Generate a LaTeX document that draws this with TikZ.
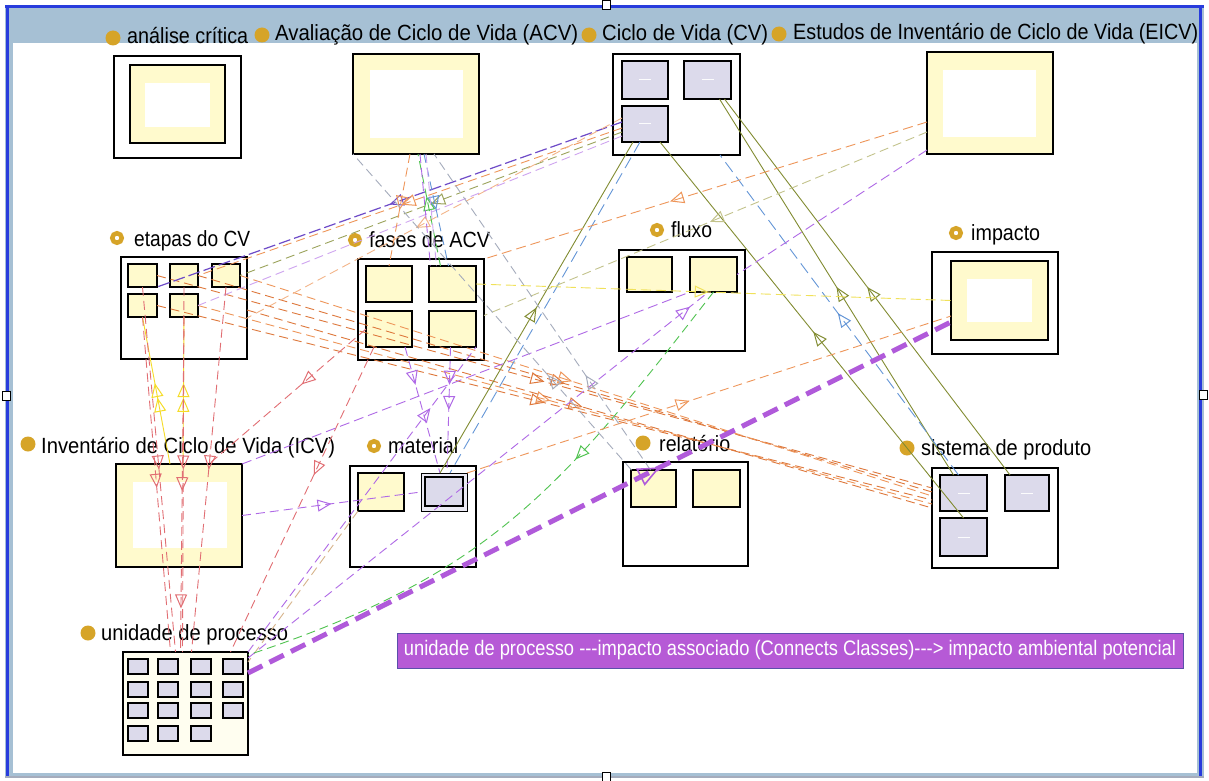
\documentclass[tikz,border=0pt]{standalone}
\usepackage{fontspec}
\setmainfont{Liberation Sans}
\usepackage{graphicx}
\usetikzlibrary{arrows.meta,decorations.markings,calc}
\definecolor{yel}{RGB}{255,250,205}
\definecolor{lav}{RGB}{220,218,235}
\definecolor{gold}{RGB}{214,164,40}
\definecolor{barblue}{RGB}{166,192,212}
\definecolor{frameblue}{RGB}{40,60,220}
\definecolor{tipfill}{RGB}{182,90,214}
\definecolor{cor}{RGB}{238,150,90}
\definecolor{cdor}{RGB}{222,120,60}
\definecolor{cpu}{RGB}{175,105,230}
\definecolor{cdpu}{RGB}{110,75,200}
\definecolor{crd}{RGB}{225,110,115}
\definecolor{col}{RGB}{130,140,50}
\definecolor{cbl}{RGB}{100,150,215}
\definecolor{cye}{RGB}{245,220,40}
\definecolor{cyd}{RGB}{240,225,90}
\definecolor{cgr}{RGB}{80,195,80}
\definecolor{cgy}{RGB}{165,172,188}
\definecolor{cbe}{RGB}{215,180,140}
\definecolor{cpo}{RGB}{195,195,140}
\definecolor{thickpu}{RGB}{176,90,218}
\newcommand\mylab[2]{\resizebox{#1}{\height}{#2}}
\tikzset{
  ot/.tip={Triangle[open,length=14pt,width=12pt,line width=1pt]},
  bt/.tip={Triangle[open,length=22pt,width=19pt,line width=1.6pt]},
  ar/.style={postaction={decorate,decoration={markings,mark=at position #1 with {\arrow{ot}}}}},
  arb/.style={postaction={decorate,decoration={markings,mark=at position #1 with {\arrow{bt}}}}},
  cn/.style={line width=0.9pt,dash pattern=on 9pt off 5pt},
  sl/.style={line width=0.9pt},
  obox/.style={rectangle,draw=black,line width=1.6pt,fill=white,inner sep=0pt,outer sep=0pt,anchor=north west},
  ybox/.style={obox,fill=yel},
  lbox/.style={obox,fill=lav,path picture={\draw[white!92!lav,line width=1pt] ([xshift=-6pt]path picture bounding box.center) -- ([xshift=6pt]path picture bounding box.center);}},
  gbox/.style={obox,fill=lav,minimum width=20pt,minimum height=15pt},
  lbl/.style={anchor=base west,inner sep=0pt,font=\fontsize{22}{24}\selectfont},
  dot/.style={circle,fill=gold,minimum size=15pt,inner sep=0pt},
  ring/.style={circle,draw=gold,line width=4.5pt,fill=white,minimum size=9.5pt,inner sep=0pt},
  hdl/.style={rectangle,draw=black,line width=0.6pt,fill=white,inner sep=0pt,minimum width=8pt,minimum height=9pt}
}
\begin{document}
\begin{tikzpicture}[x=1pt,y=-1pt]
\useasboundingbox (0,0) rectangle (1209,781);
\fill[white] (0,0) rectangle (1209,781);
% frame
\fill[barblue] (5,5) rectangle (1204,778);
\fill[white] (13,43) rectangle (1197,773);
\draw[frameblue,line width=3pt] (5,6.5) -- (1204,6.5);
\draw[frameblue,line width=3pt] (7.5,5) -- (7.5,777);
\draw[frameblue,line width=2.5pt] (1200.5,5) -- (1200.5,777);
\draw[cgy,line width=2pt] (5,777) -- (1204,777);
\node[hdl] (h1) at (606,5) {};
\node[hdl] (h2) at (6,396) {};
\node[hdl] (h3) at (1203,395) {};
\node[hdl] (h4) at (606,777) {};

% ---------- nodes ----------
\node[obox,minimum width=127pt,minimum height=102pt] (ac) at (114,56) {};
\node[ybox,minimum width=95pt,minimum height=78pt] (aci) at (130,65) {};
\fill[white] (145,83) rectangle (210,127);

\node[ybox,minimum width=126pt,minimum height=100pt] (acv) at (353,54) {};
\fill[white] (370,70) rectangle (463,138);

\node[obox,minimum width=127pt,minimum height=101pt] (cv) at (613,54) {};
\node[lbox,minimum width=46pt,minimum height=38pt] (cv1) at (622,61) {};
\node[lbox,minimum width=47pt,minimum height=38pt] (cv2) at (684,61) {};
\node[lbox,minimum width=46pt,minimum height=36pt] (cv3) at (622,106) {};

\node[ybox,minimum width=126pt,minimum height=102pt] (eicv) at (927,52) {};
\fill[white] (943,70) rectangle (1036,137);

\node[obox,minimum width=126pt,minimum height=102pt] (et) at (121,257) {};
\node[ybox,minimum width=29pt,minimum height=23pt] (et1) at (128,264) {};
\node[ybox,minimum width=28pt,minimum height=23pt] (et2) at (170,264) {};
\node[ybox,minimum width=28pt,minimum height=23pt] (et3) at (212,264) {};
\node[ybox,minimum width=29pt,minimum height=23pt] (et4) at (128,294) {};
\node[ybox,minimum width=28pt,minimum height=23pt] (et5) at (170,294) {};

\node[obox,minimum width=126pt,minimum height=101pt] (fa) at (358,259) {};
\node[ybox,minimum width=46pt,minimum height=36pt] (fa1) at (366,266) {};
\node[ybox,minimum width=47pt,minimum height=36pt] (fa2) at (429,266) {};
\node[ybox,minimum width=46pt,minimum height=36pt] (fa3) at (366,311) {};
\node[ybox,minimum width=47pt,minimum height=36pt] (fa4) at (429,311) {};

\node[obox,minimum width=126pt,minimum height=101pt] (fl) at (619,250) {};
\node[ybox,minimum width=45pt,minimum height=35pt] (fl1) at (627,257) {};
\node[ybox,minimum width=47pt,minimum height=35pt] (fl2) at (690,257) {};

\node[obox,minimum width=126pt,minimum height=102pt] (im) at (932,252) {};
\node[ybox,minimum width=97pt,minimum height=79pt] (imi) at (951,261) {};
\fill[white] (967,279) rectangle (1032,322);

\node[ybox,minimum width=126pt,minimum height=103pt] (icv) at (116,464) {};
\fill[white] (133,482) rectangle (227,548);

\node[obox,minimum width=126pt,minimum height=101pt] (ma) at (350,466) {};
\node[ybox,minimum width=46pt,minimum height=38pt] (ma1) at (358,473) {};
\node[obox,fill=lav!60,line width=1pt,minimum width=46pt,minimum height=38pt] (ma2) at (421,473) {};
\node[obox,fill=lav,minimum width=38pt,minimum height=29pt] (ma2i) at (425,477) {};

\node[obox,minimum width=125pt,minimum height=104pt] (re) at (623,462) {};
\node[ybox,minimum width=45pt,minimum height=37pt] (re1) at (631,470) {};
\node[ybox,minimum width=47pt,minimum height=37pt] (re2) at (693,470) {};

\node[obox,minimum width=126pt,minimum height=100pt] (sp) at (932,468) {};
\node[lbox,minimum width=47pt,minimum height=36pt] (sp1) at (940,475) {};
\node[lbox,minimum width=44pt,minimum height=36pt] (sp2) at (1005,475) {};
\node[lbox,minimum width=47pt,minimum height=38pt] (sp3) at (940,518) {};

\node[obox,fill=yel!30,minimum width=125pt,minimum height=103pt] (up) at (123,652) {};
\foreach \xx/\yy [count=\i] in {128/659,158/659,191/659,223/659,128/682,158/682,191/682,223/682,128/703,158/703,191/703,223/703,128/726,158/726,191/726}
  \node[gbox] (u\i) at (\xx,\yy) {};

% ---------- labels ----------
\node[dot] (dac) at (113,38) {};
\node[lbl] (tac) at (127,44) {\mylab{121pt}{análise crítica}};
\node[dot] (dacv) at (262,35) {};
\node[lbl] (tacv) at (275,41) {\mylab{303pt}{Avaliação de Ciclo de Vida (ACV)}};
\node[dot] (dcv) at (589,35) {};
\node[lbl] (tcv) at (602,41) {\mylab{166pt}{Ciclo de Vida (CV)}};
\node[dot] (deicv) at (779,34) {};
\node[lbl] (teicv) at (793,40) {\mylab{405pt}{Estudos de Inventário de Ciclo de Vida (EICV)}};
\node[ring] (det) at (117,238) {};
\node[lbl] (tet) at (134,246) {\mylab{116pt}{etapas do CV}};
\node[ring] (dfa) at (355,240) {};
\node[lbl] (tfa) at (369,247) {\mylab{121pt}{fases de ACV}};
\node[ring] (dfl) at (657,230) {};
\node[lbl] (tfl) at (671,237) {\mylab{41pt}{fluxo}};
\node[ring] (dim) at (956,233) {};
\node[lbl] (tim) at (971,240) {\mylab{69pt}{impacto}};
\node[dot] (dicv) at (28,444) {};
\node[lbl] (ticv) at (41,453) {\mylab{294pt}{Inventário de Ciclo de Vida (ICV)}};
\node[ring] (dma) at (374,446) {};
\node[lbl] (tma) at (388,453) {\mylab{70pt}{material}};
\node[dot] (dre) at (643,443) {};
\node[lbl] (tre) at (659,451) {\mylab{71pt}{relatório}};
\node[dot] (dsp) at (907,448) {};
\node[lbl] (tsp) at (921,455) {\mylab{170pt}{sistema de produto}};
\node[dot] (dup) at (88,633) {};
\node[lbl] (tup) at (101,640) {\mylab{187pt}{unidade de processo}};

% ---------- connectors ----------
% etapas -> sistema de produto bundle
\draw[cn,cdor,ar=0.5] (et1.east) -- ([yshift=30pt]sp.west);
\draw[cn,cdor,ar=0.5] (et2.east) -- ([yshift=26pt]sp.west);
\draw[cn,cor,ar=0.48] (et3.east) -- ([yshift=22pt]sp.west);
\draw[cn,cdor,ar=0.5] (et4.east) -- ([yshift=18pt]sp.west);
\draw[cn,cor,ar=0.48] (et5.east) -- ([yshift=14pt]sp.west);
\draw[cn,cdor,ar=0.49] ([yshift=-2pt]et.east) -- ([yshift=10pt]sp.west);
% CV -> etapas bundle
\draw[cn,cdpu,line width=1.2pt,dash pattern=on 12pt off 4pt,ar=0.5] ([yshift=2pt]cv3.west) -- (et1.south east);
\draw[cn,cor,ar=0.52] ([yshift=-4pt]cv3.west) -- (et2.east);
\draw[cn,col!80,ar=0.5] ([yshift=-8pt]cv3.west) -- (et3.east);
\draw[cn,cor!70,ar=0.55] ([yshift=6pt]cv3.west) -- ([yshift=-10pt]et.east);
\draw[cn,cpu!60] ([yshift=-12pt]cv3.west) -- (et5.east);
% ACV -> fases
\draw[cn,cor,ar=0.5] ([xshift=-6pt]acv.south) -- (fa1.north);
\draw[cn,cbl,ar=0.5] ([xshift=8pt]acv.south) -- ([xshift=-4pt]fa2.north);
\draw[cn,cgr,ar=0.62] ([xshift=-12pt]fa2.north) -- ([xshift=2pt]acv.south);
\draw[cn,cpu] ([xshift=4pt]acv.south) -- ([xshift=-22pt]fa2.north);
\draw[cn,cpu!60] ([xshift=10pt]acv.south) -- ([xshift=-16pt]fa2.north);
% fases -> material
\draw[cn,cpu,ar=0.3] ([xshift=16pt]fa3.south) -- ([xshift=-4pt]ma2.north);
\draw[cn,cpu,ar=0.3,ar=0.5] ([xshift=-2pt]fa4.south) -- ([xshift=3pt]ma2.north);
\draw[cn,cpu,ar=0.8] (up.north east) -- (fa4.south east);
% etapas <-> ICV / unidade
\draw[sl,cye,ar=0.45,ar=0.55] ([xshift=-9pt]icv.north) -- (et4.south);
\draw[sl,cye,ar=0.45,ar=0.55] ([xshift=4pt]icv.north) -- (et5.south);
\draw[cn,crd,ar=0.5] (et1.south) -- ([xshift=-10pt]up.north);
\draw[cn,crd,ar=0.51] (et4.south) -- ([xshift=-15pt]up.north);
\draw[cn,crd,ar=0.5] (et2.south) -- ([xshift=-3pt]up.north);
\draw[cn,crd,ar=0.52,ar=0.87] (et5.south) -- ([xshift=-5pt]up.north);
\draw[cn,crd,ar=0.5] (et3.south) -- ([xshift=6pt]up.north);
\draw[cn,crd,ar=0.41] (fa3.west) -- ([xshift=30pt]icv.north);
\draw[cn,crd,ar=0.42] ([xshift=-15pt]fa3.south) -- ([xshift=45pt]up.north);
% ICV -> material
\draw[cn,cpu,ar=0.5] (icv.east) -- (ma2.west);
\draw[cn,cbe] (ma1.south west) -- ([yshift=-10pt]up.north east);
% CV olive / blue
\draw[sl,col,ar=0.5] ([xshift=-4pt]ma2.north) -- ([xshift=-12pt]cv3.south);
\draw[sl,col,ar=0.495] (sp3.north) -- ([xshift=15pt]cv3.south);
\draw[sl,col,ar=0.5] ([xshift=-10pt]sp1.north) -- ([xshift=12pt]cv2.south);
\draw[sl,col,ar=0.5] ([xshift=-17pt]sp2.north) -- ([xshift=17pt]cv2.south);
\draw[cn,cbl,dash pattern=on 12pt off 6pt] ([xshift=-5pt]cv3.south) -- ([xshift=6pt]ma2.north);
\draw[cn,cbl,dash pattern=on 12pt off 6pt,ar=0.506] ([xshift=-5pt]sp1.north) -- ([xshift=-20pt]cv.south east);
% EICV
\draw[cn,cor,dash pattern=on 10pt off 5pt,ar=0.58] ([yshift=-19pt]eicv.west) -- (fa.north east);
\draw[cn,cpo,ar=0.49] ([yshift=-29pt]eicv.west) -- ([yshift=-6pt]fa.east);
\draw[cn,cpu,dash pattern=on 10pt off 5pt] ([yshift=4pt]eicv.south west) -- (fl2.east);
% fluxo / impacto
\draw[cn,cyd,dash pattern=on 10pt off 5pt,ar=0.49] (fa2.east) -- (imi.west);
\draw[cn,cpu,dash pattern=on 10pt off 5pt] (icv.north east) -- (fl2.south west);
\draw[cn,cpu,ar=0.96] ([yshift=-6pt]up.north east) -- ([xshift=-5pt]fl2.south);
\draw[cn,cgr,ar=0.36] (fl2.south) .. controls (560,490) and (490,575) .. ([yshift=-3pt]up.north east);
\draw[cn,cor,ar=0.46] (ma2.north east) -- ([yshift=24pt]imi.south west);
% relatorio
\draw[cn,cgy,ar=0.3] ([xshift=-22pt]re1.north) -- (acv.south west);
\draw[cn,cgy,ar=0.3] ([xshift=-3pt]re1.north) -- ([xshift=18pt]acv.south);
% thick association
\draw[thickpu,line width=5pt,dash pattern=on 16pt off 8pt,arb=0.586] ([yshift=-21pt]up.north east) -- ([yshift=18pt]imi.south west);

% tooltip
\node[rectangle,fill=tipfill,draw={rgb,255:red,90;green,80;blue,170},line width=0.8pt,minimum width=786pt,minimum height=35pt,inner sep=0pt,text=white,font=\fontsize{21}{23}\selectfont] (tt) at (790,650.5) {\mylab{772pt}{unidade de processo -{}-{}-impacto associado (Connects Classes)-{}-{}-> impacto ambiental potencial}};
\end{tikzpicture}
\end{document}
